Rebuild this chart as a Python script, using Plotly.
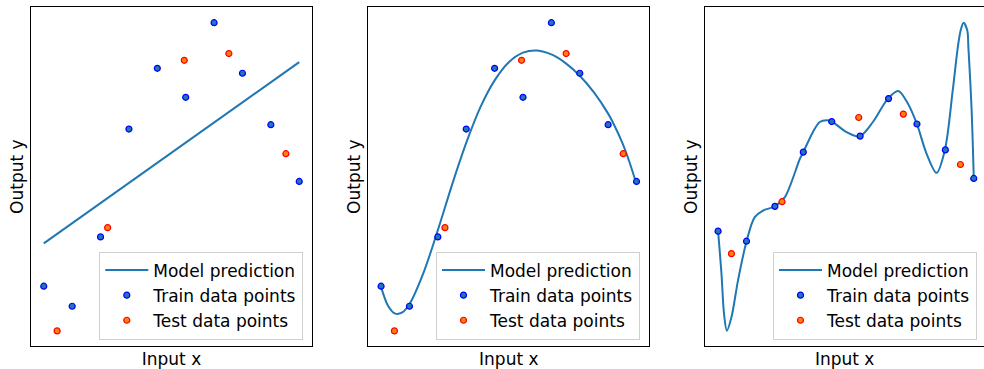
import plotly.graph_objects as go

# Training and test samples (same data in every panel)
train_x = [0, 1, 2, 3, 4, 5, 6, 7, 8, 9]
train_y = [1.45, 0.80, 3.05, 6.55, 8.52, 7.58, 10.00, 8.36, 6.69, 4.85]
test_x = [0.47, 2.25, 4.95, 6.52, 8.53]
test_y = [0.00, 3.35, 8.78, 9.00, 5.75]

# Model predictions: straight line, smooth fit, over-flexible fit
line_x = [0, 9]
line_y = [2.84, 8.72]

smooth_x = [0, 0.25, 0.5, 0.75, 1.0, 1.5, 2.0, 2.5, 3.0, 3.5, 4.0, 4.5,
            5.0, 5.5, 6.0, 6.5, 7.0, 7.5, 8.0, 8.25, 8.5, 8.75, 9.0]
smooth_y = [1.42, 0.81, 0.56, 0.60, 0.87, 1.90, 3.27, 4.74, 6.10, 7.26, 8.13,
            8.72, 9.03, 9.10, 8.97, 8.69, 8.28, 7.74, 7.05, 6.61, 6.10, 5.48,
            4.76]

wiggly_x = [0, 0.12, 0.21, 0.31, 0.47, 0.70, 1.0, 1.29, 1.58, 1.99, 2.35,
            2.88, 3.0, 3.34, 3.58, 3.82, 3.99, 4.51, 4.98, 5.45, 5.98, 6.34,
            6.68, 7.0, 7.34, 7.69, 7.98, 8.26, 8.44, 8.54, 8.64, 8.77, 8.81,
            8.92, 9.0]
wiggly_y = [1.45, -1.31, -3.90, -4.97, -4.11, -1.74, 0.78, 2.35, 2.78, 3.04,
            3.64, 6.12, 6.55, 7.85, 8.49, 8.60, 8.54, 7.85, 7.57, 8.49, 10.0,
            10.49, 9.68, 8.35, 6.44, 5.21, 6.66, 10.54, 13.34, 14.41, 14.89,
            14.41, 13.34, 9.46, 4.85]

FONT = "DejaVu Sans"
FS = 17
W, H = 984, 369

panels = [
    dict(px=(31.0, 312.0), x=line_x, y=line_y, shape="linear",
         xr=[-0.45, 9.45], yr=[-0.49, 10.5], mirror_y=True, leg_right=303.3),
    dict(px=(368.3, 649.3), x=smooth_x, y=smooth_y, shape="spline",
         xr=[-0.45, 9.45], yr=[-0.49, 10.5], mirror_y=True, leg_right=640.0),
    dict(px=(705.3, 984.0), x=wiggly_x, y=wiggly_y, shape="spline",
         xr=[-0.45, 9.36], yr=[-5.96, 15.89], mirror_y=False, leg_right=977.0),
]

y_dom = [23.0 / H, (H - 7.3) / H]

fig = go.Figure()
layout = dict(
    width=W, height=H,
    margin=dict(l=0, r=0, t=0, b=0),
    paper_bgcolor="white", plot_bgcolor="white",
    font=dict(family=FONT, size=FS, color="black"),
    showlegend=True,
)

for i, p in enumerate(panels):
    n = i + 1
    xa = "x" if n == 1 else f"x{n}"
    ya = "y" if n == 1 else f"y{n}"
    leg = "legend" if n == 1 else f"legend{n}"

    fig.add_trace(go.Scatter(
        x=p["x"], y=p["y"], mode="lines", name="Model prediction",
        line=dict(color="#1f77b4", width=2, shape=p["shape"], smoothing=0.9),
        xaxis=xa, yaxis=ya, legend=leg))
    fig.add_trace(go.Scatter(
        x=train_x, y=train_y, mode="markers", name="Train data points",
        marker=dict(color="#1f77b4", size=6, line=dict(color="blue", width=1.2)),
        xaxis=xa, yaxis=ya, legend=leg))
    fig.add_trace(go.Scatter(
        x=test_x, y=test_y, mode="markers", name="Test data points",
        marker=dict(color="#ff7f0e", size=6, line=dict(color="red", width=1.2)),
        xaxis=xa, yaxis=ya, legend=leg))

    x0, x1 = p["px"]
    axis_common = dict(showgrid=False, zeroline=False, showticklabels=False,
                       ticks="", showline=True, linecolor="black", linewidth=1,
                       automargin=False)
    layout["xaxis" if n == 1 else f"xaxis{n}"] = dict(
        domain=[x0 / W, x1 / W], range=p["xr"], anchor=ya, mirror=True,
        title=dict(text="Input x", standoff=7, font=dict(size=FS)),
        **axis_common)
    layout["yaxis" if n == 1 else f"yaxis{n}"] = dict(
        domain=y_dom, range=p["yr"], anchor=xa, mirror=p["mirror_y"],
        title=dict(text="Output y", standoff=1.5, font=dict(size=FS)),
        **axis_common)
    layout[leg] = dict(
        x=p["leg_right"] / W, y=(H - 339.5) / H, xanchor="right", yanchor="bottom",
        xref="paper", yref="paper", itemwidth=43,
        bgcolor="rgba(255,255,255,0.8)", bordercolor="#d0d0d0", borderwidth=1,
        font=dict(family=FONT, size=FS, color="black"))

fig.update_layout(**layout)
fig.write_html("out.html")
